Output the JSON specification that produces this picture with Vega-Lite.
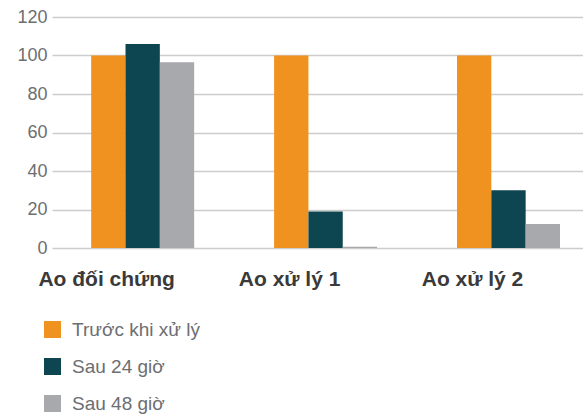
{
  "$schema": "https://vega.github.io/schema/vega-lite/v6.json",
  "width": 531,
  "height": 231,
  "autosize": {"type": "none"},
  "padding": {"left": 52, "top": 17, "right": 0, "bottom": 169},
  "background": "white",
  "data": {
    "values": [
      {"ao": "Ao đối chứng", "giai_doan": "Trước khi xử lý", "gia_tri": 100},
      {"ao": "Ao đối chứng", "giai_doan": "Sau 24 giờ", "gia_tri": 106},
      {"ao": "Ao đối chứng", "giai_doan": "Sau 48 giờ", "gia_tri": 96.5},
      {"ao": "Ao xử lý  1", "giai_doan": "Trước khi xử lý", "gia_tri": 100},
      {"ao": "Ao xử lý  1", "giai_doan": "Sau 24 giờ", "gia_tri": 19},
      {"ao": "Ao xử lý  1", "giai_doan": "Sau 48 giờ", "gia_tri": 0.7},
      {"ao": "Ao xử lý  2", "giai_doan": "Trước khi xử lý", "gia_tri": 100},
      {"ao": "Ao xử lý  2", "giai_doan": "Sau 24 giờ", "gia_tri": 30},
      {"ao": "Ao xử lý  2", "giai_doan": "Sau 48 giờ", "gia_tri": 12.5}
    ]
  },
  "mark": {"type": "bar"},
  "encoding": {
    "x": {
      "field": "ao",
      "type": "nominal",
      "sort": ["Ao đối chứng", "Ao xử lý  1", "Ao xử lý  2"],
      "scale": {"paddingInner": 0.437, "paddingOuter": 0.17, "align": 0.63},
      "axis": {
        "title": null,
        "labelAngle": 0,
        "domain": false,
        "ticks": false,
        "labelFont": "Liberation Sans",
        "labelFontWeight": "bold",
        "labelFontSize": 21,
        "labelColor": "#3a3a3a",
        "labelBaseline": "alphabetic",
        "labelPadding": 37,
        "labelOffset": -36
      }
    },
    "xOffset": {
      "field": "giai_doan",
      "type": "nominal",
      "sort": ["Trước khi xử lý", "Sau 24 giờ", "Sau 48 giờ"],
      "scale": {"paddingInner": 0, "paddingOuter": 0}
    },
    "y": {
      "field": "gia_tri",
      "type": "quantitative",
      "scale": {"domain": [0, 120], "nice": false},
      "axis": {
        "title": null,
        "values": [0, 20, 40, 60, 80, 100, 120],
        "domain": false,
        "ticks": false,
        "grid": true,
        "gridColor": "#cccccc",
        "gridWidth": 1.5,
        "labelFont": "Liberation Sans",
        "labelFontSize": 18,
        "labelColor": "#6d6e71",
        "labelPadding": 5,
        "labelDy": -4
      }
    },
    "color": {
      "field": "giai_doan",
      "type": "nominal",
      "sort": ["Trước khi xử lý", "Sau 24 giờ", "Sau 48 giờ"],
      "scale": {
        "domain": ["Trước khi xử lý", "Sau 24 giờ", "Sau 48 giờ"],
        "range": ["#f0921f", "#0d4650", "#a7a9ac"]
      },
      "legend": {
        "title": null,
        "orient": "none",
        "legendX": -9,
        "legendY": 303,
        "direction": "vertical",
        "symbolType": "square",
        "symbolSize": 289,
        "symbolStrokeWidth": 0,
        "labelFont": "Liberation Sans",
        "labelFontSize": 19,
        "labelColor": "#6d6e71",
        "labelOffset": 10,
        "rowPadding": 17
      }
    }
  },
  "config": {"view": {"stroke": null}}
}
